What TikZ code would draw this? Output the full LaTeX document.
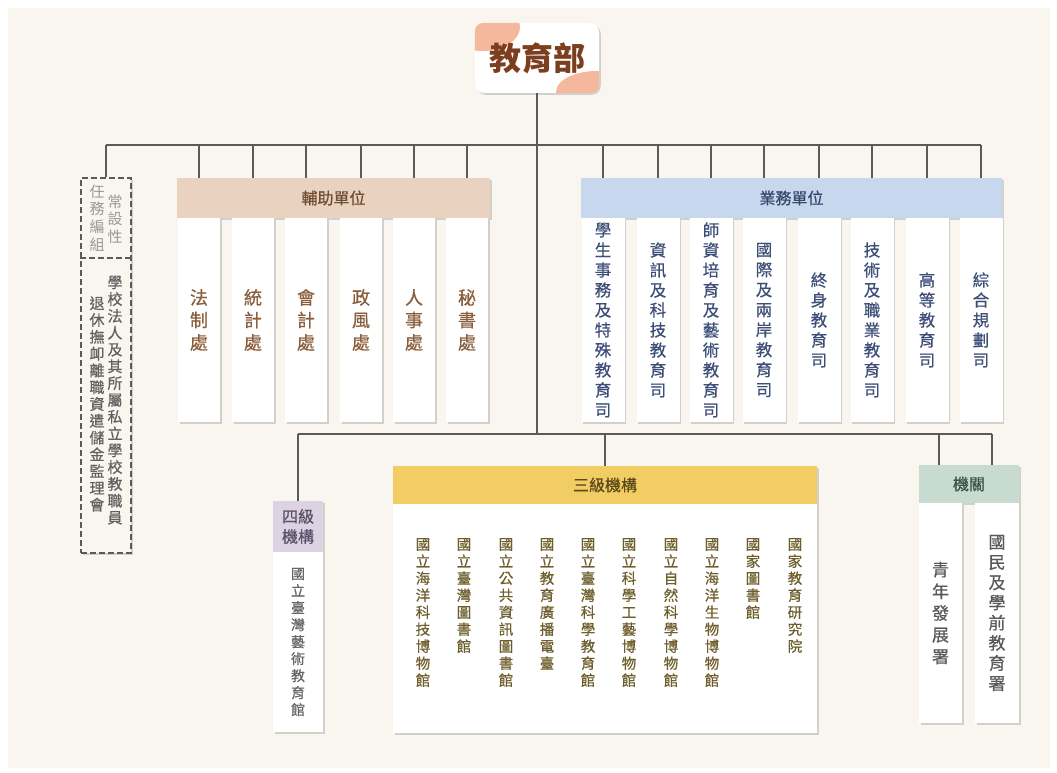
\documentclass[tikz,border=0pt]{standalone}
\usepackage{fontspec}
\setmainfont{Noto Sans CJK TC}
\newfontfamily\mfont[FakeBold=0.6]{Noto Sans CJK TC}
\usetikzlibrary{shadows}
\ExplSyntaxOn
\cs_new_protected:Npn \my_vs:n #1 { \seq_set_split:Nnn \l_tmpa_seq {} {#1} \seq_use:Nn \l_tmpa_seq {\\} }
\cs_generate_variant:Nn \my_vs:n {x}
\NewDocumentCommand\vs{m}{\my_vs:x{#1}}
\ExplSyntaxOff
\definecolor{bg}{HTML}{F8F6EF}
\definecolor{linec}{HTML}{5A5A5A}
\definecolor{peach}{HTML}{F6B89C}
\definecolor{titleT}{HTML}{7B3F1F}
\definecolor{tanH}{HTML}{E9D2BF}
\definecolor{tanT}{HTML}{6E4B33}
\definecolor{tanC}{HTML}{8B5E3C}
\definecolor{blueH}{HTML}{C7D7EE}
\definecolor{blueT}{HTML}{34466A}
\definecolor{blueC}{HTML}{3D4F78}
\definecolor{yelH}{HTML}{F2CD63}
\definecolor{yelT}{HTML}{5C4A1C}
\definecolor{yelC}{HTML}{6E5E2C}
\definecolor{lavH}{HTML}{DCD2E2}
\definecolor{lavT}{HTML}{5C5068}
\definecolor{sageH}{HTML}{C8DBD0}
\definecolor{sageT}{HTML}{3F524A}
\begin{document}
\begin{tikzpicture}[x=1pt,y=-1pt,
  conn/.style={draw=linec,line width=1.1pt},
  sh/.style={drop shadow={shadow xshift=1.8pt,shadow yshift=-1.8pt,opacity=0.32}},
  hdr/.style={sh,inner sep=0pt,align=center,font=\mfont\fontsize{16}{20}\selectfont},
  col/.style={sh,fill=white,inner sep=0pt,align=center},
  fzcol/.style={col,minimum width=42pt,minimum height=204pt,text=tanC,font=\mfont\fontsize{18}{22.5}\selectfont},
  ywcol/.style={col,minimum width=43pt,minimum height=204pt,text=blueC,font=\mfont\fontsize{16.5}{20}\selectfont},
  sjtxt/.style={inner sep=0pt,align=center,anchor=north,text=yelC,font=\mfont\fontsize{14.5}{17}\selectfont},
]
\fill[white] (0,0) rectangle (1057,773);
\fill[bg] (8,8) rectangle (1050,768);
\useasboundingbox (0,0) rectangle (1057,773);

% title
\node[sh,fill=white,rounded corners=9pt,minimum width=124pt,minimum height=70pt,inner sep=0pt] (moe) at (537,58) {};
\begin{scope}
  \clip[rounded corners=9pt] (moe.north west) rectangle (moe.south east);
  \fill[peach] (483,27) ellipse [x radius=37pt,y radius=24pt];
  \fill[peach] (597,92) ellipse [x radius=41pt,y radius=21pt];
\end{scope}
\node[inner sep=0pt,text=titleT,font=\fontsize{32}{36}\selectfont\bfseries] (moet) at (moe.center) {教育部};

\coordinate (bus) at (0,145);
\coordinate (lbus) at (0,434);
\coordinate (divy) at (0,258);

% dashed task force box
\node[sh,fill=bg,draw=linec,line width=1.2pt,dash pattern=on 6pt off 3pt,minimum width=50pt,minimum height=375pt,inner sep=0pt] (tf) at (106,365.5) {};
\draw[draw=linec,line width=1.2pt,dash pattern=on 6pt off 3pt] (tf.west |- divy) -- (tf.east |- divy);
\node[inner sep=0pt,align=center,text=black!40,font=\fontsize{15}{17.7}\selectfont] (tf1) at (115,219) {\vs{常設性}};
\node[inner sep=0pt,align=center,text=black!40,font=\fontsize{15}{17.7}\selectfont] (tf2) at (97,218) {\vs{任務編組}};
\node[inner sep=0pt,align=center,text=black!62,font=\mfont\fontsize{15}{16.8}\selectfont] (tf3) at (115,400) {\vs{學校法人及其所屬私立學校教職員}};
\node[inner sep=0pt,align=center,text=black!62,font=\mfont\fontsize{15}{16.8}\selectfont] (tf4) at (97,404) {\vs{退休撫卹離職資遣儲金監理會}};

% auxiliary units
\node[hdr,fill=tanH,text=tanT,minimum width=313pt,minimum height=40pt] (fz) at (333.5,198) {輔助單位};
\foreach \x/\t [count=\i] in {199/法制處,253/統計處,306/會計處,361/政風處,414/人事處,467/秘書處}
  \node[fzcol] (fz\i) at (\x,320) {\vs{\t}};

% business units
\node[hdr,fill=blueH,text=blueT,minimum width=421pt,minimum height=40pt] (yw) at (791.5,198) {業務單位};
\foreach \x/\t [count=\i] in {603/學生事務及特殊教育司,658/資訊及科技教育司,711/師資培育及藝術教育司,764/國際及兩岸教育司,819/終身教育司,872/技術及職業教育司,927/高等教育司,981/綜合規劃司}
  \node[ywcol] (yw\i) at (\x,320) {\vs{\t}};

% fourth-level
\node[hdr,fill=lavH,text=lavT,minimum width=50pt,minimum height=51pt] (s4) at (298,526.5) {四級\\機構};
\node[col,minimum width=50pt,minimum height=180pt,text=black!60,font=\mfont\fontsize{14}{17}\selectfont] (s4b) at (298,642) {\vs{國立臺灣藝術教育館}};

% third-level
\node[hdr,fill=yelH,text=yelT,minimum width=424pt,minimum height=38pt] (s3) at (605,485) {三級機構};
\node[col,minimum width=424pt,minimum height=229pt] (s3b) at (605,618.5) {};
\foreach \x/\t [count=\i] in {423/國立海洋科技博物館,464/國立臺灣圖書館,506/國立公共資訊圖書館,547/國立教育廣播電臺,588/國立臺灣科學教育館,629/國立科學工藝博物館,671/國立自然科學博物館,712/國立海洋生物博物館,753/國家圖書館,795/國家教育研究院}
  \node[sjtxt] (s3t\i) at (\x,538) {\vs{\t}};

% agencies
\node[hdr,fill=sageH,text=sageT,minimum width=100pt,minimum height=38pt] (jg) at (969,484) {機關};
\node[col,minimum width=43pt,minimum height=220pt,text=black!65,font=\mfont\fontsize{17}{21.7}\selectfont] (jg1) at (940.5,613) {\vs{青年發展署}};
\node[col,minimum width=44pt,minimum height=220pt,text=black!65,font=\mfont\fontsize{17}{20.2}\selectfont] (jg2) at (997,613) {\vs{國民及學前教育署}};

% connectors
\draw[conn] (moe.south) -- (moe.south |- lbus);
\draw[conn] (tf.north |- bus) -- (yw8 |- bus);
\draw[conn] (tf.north |- bus) -- (tf.north);
\foreach \i in {1,...,6} \draw[conn] (fz\i |- bus) -- (fz\i |- fz.north);
\foreach \i in {1,...,8} \draw[conn] (yw\i |- bus) -- (yw\i |- yw.north);
\draw[conn] (s4.north |- lbus) -- ([xshift=23pt]jg.north |- lbus);
\draw[conn] (s4.north |- lbus) -- (s4.north);
\draw[conn] (s3.north |- lbus) -- (s3.north);
\draw[conn] ([xshift=-30pt]jg.north |- lbus) -- ([xshift=-30pt]jg.north);
\draw[conn] ([xshift=23pt]jg.north |- lbus) -- ([xshift=23pt]jg.north);
\end{tikzpicture}
\end{document}
